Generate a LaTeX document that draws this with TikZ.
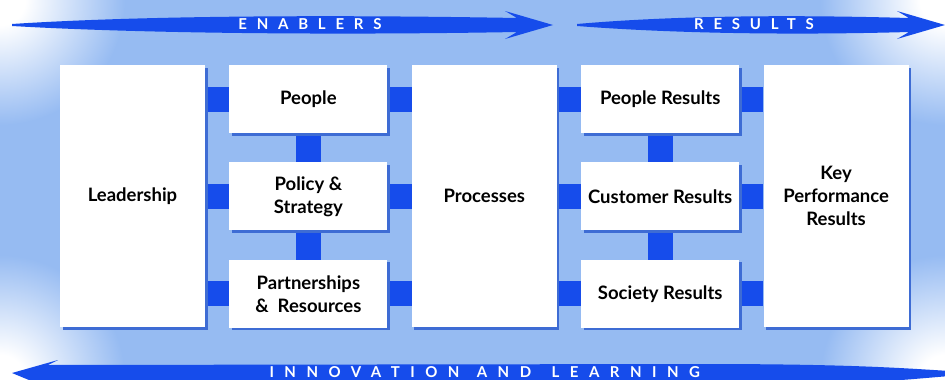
\documentclass[tikz,border=0pt]{standalone}
\usepackage{fontspec}
\setmainfont{Lato}
\usetikzlibrary{positioning,shadows,backgrounds}

\definecolor{fond}{RGB}{150,187,242}
\definecolor{bleu}{RGB}{22,76,235}
\definecolor{ombre}{RGB}{62,108,212}

\pgfdeclareradialshading{coin}{\pgfpoint{0bp}{0bp}}%
  {color(0bp)=(white); color(5bp)=(white); color(25bp)=(fond); color(50bp)=(fond)}

\tikzset{bloc/.style = {fill=white, minimum width=#1, minimum height=68pt,
                        align=center, inner sep=2pt,
                        font=\bfseries\fontsize{18.5}{23}\selectfont,
                        drop shadow={shadow xshift=2.5pt, shadow yshift=-2.5pt,
                                     fill=ombre, opacity=1}},
         bloc/.default=158pt,
         grandbloc/.style = {bloc=145pt, minimum height=262pt},
         lien/.style = {draw=bleu, line width=25pt},
         fleche/.style = {fill=bleu},
         titre/.style = {text=white, inner sep=0pt,
                         font=\bfseries\fontsize{15}{15}\selectfont\addfontfeatures{LetterSpace=#1}},
         titre/.default=65
        }

\begin{document}
\begin{tikzpicture}[x=1pt, y=-1pt]
  \useasboundingbox (0,0) rectangle (945,380);

  % les neuf criteres
  \node[grandbloc] (lead) at (132.5,196) {Leadership};
  \node[bloc, below right=0pt and 24pt of lead.north east] (ppl) {People};
  \node[bloc, below=29pt of ppl] (pol) {Policy \&\\Strategy};
  \node[bloc, below=29pt of pol] (part) {Partnerships\\\& ~Resources};
  \node[grandbloc, below right=0pt and 24pt of ppl.north east] (proc) {Processes};
  \node[bloc, below right=0pt and 24pt of proc.north east] (pres) {People Results};
  \node[bloc, below=29pt of pres] (cres) {Customer Results};
  \node[bloc, below=29pt of cres] (sres) {Society Results};
  \node[grandbloc, below right=0pt and 24pt of pres.north east] (kpr) {Key\\Performance\\Results};

  % fond et liens
  \begin{scope}[on background layer]
    \fill[fond] (0,0) rectangle (945,380);
    \foreach \cx/\cy in {0/0, 945/0, 0/380, 945/380}
      \shade[shading=coin] (\cx,\cy) circle (125);
    \foreach \g/\d in {lead/ppl, lead/pol, lead/part, proc/pres, proc/cres, proc/sres}
      \draw[lien] (\g.east |- \d.west) -- (\d.west);
    \foreach \g/\d in {ppl/proc, pol/proc, part/proc, pres/kpr, cres/kpr, sres/kpr}
      \draw[lien] (\g.east) -- (\d.west |- \g.east);
    \foreach \h/\b in {ppl/pol, pol/part, pres/cres, cres/sres}
      \draw[lien] (\h.south) -- (\b.north);
  \end{scope}

  % fleches
  \fill[fleche] (12,24) .. controls (150,15) and (350,15) .. (517,18) -- (505,11) -- (553,25)
                -- (505,39) -- (517,32) .. controls (350,35) and (150,34) .. (12,26) -- cycle;
  \fill[fleche] (577,24) .. controls (680,15) and (800,15) .. (909,18) -- (897,11) -- (945,25)
                -- (897,39) -- (909,32) .. controls (800,35) and (680,34) .. (577,26) -- cycle;
  \fill[fleche] (12,373) -- (58,360) -- (48,365) -- (700,364) .. controls (850,364) and (900,368) .. (950,371)
                -- (950,376) .. controls (900,380) and (850,386) .. (700,386) -- (48,386) -- (58,392) -- cycle;

  \node[titre] (enab) at (310,24) {ENABLERS};
  \node[titre] (res) at (754,24) {RESULTS};
  \node[titre=70] (and) at (504,372) {AND};
  \node[titre=70, left=17pt of and] (inno) {INNOVATION};
  \node[titre=70, right=20pt of and] (learn) {LEARNING};
\end{tikzpicture}
\end{document}
